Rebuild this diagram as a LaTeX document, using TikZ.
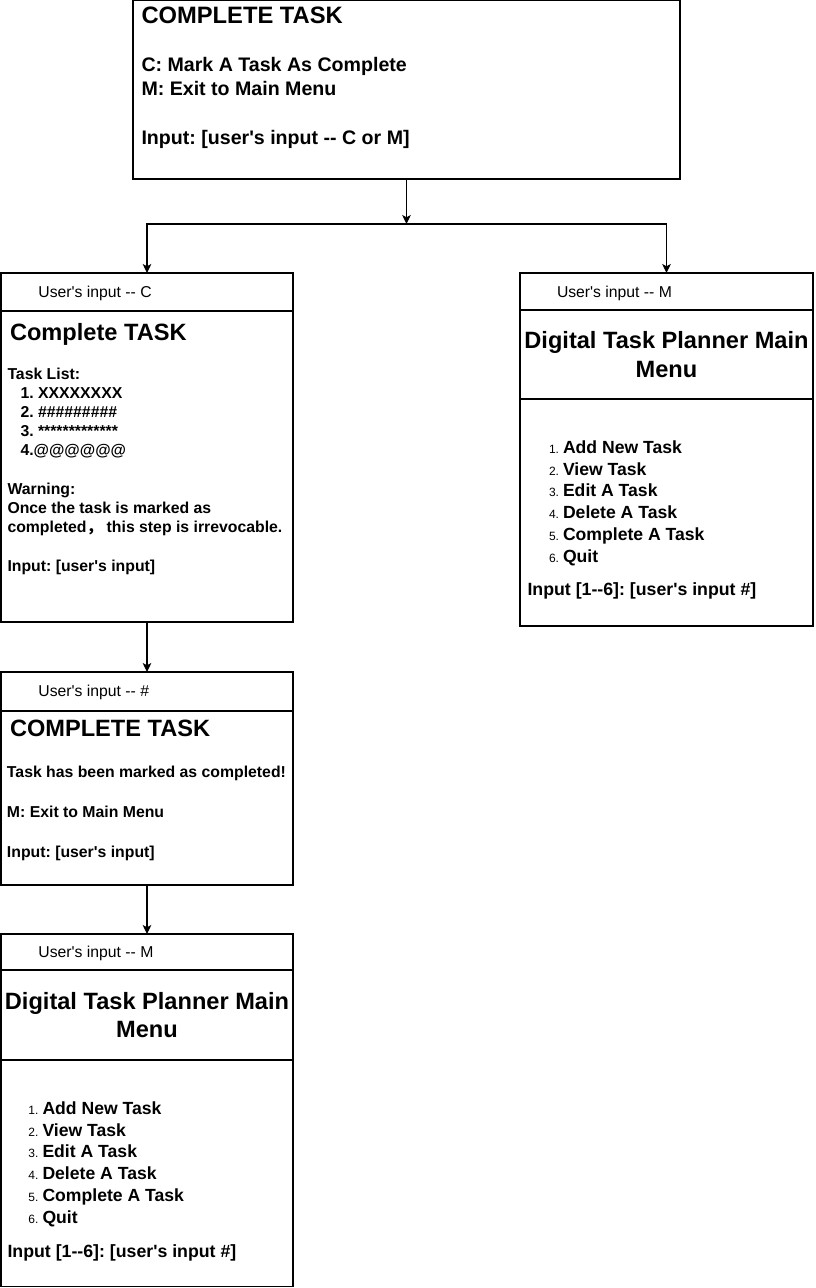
\documentclass[tikz,border=0pt]{standalone}
\usepackage{fontspec}
\setmainfont{Liberation Sans}[Ligatures=TeXOff]
\newfontfamily\cjk{Noto Sans CJK SC}
\usetikzlibrary{arrows.meta}
\frenchspacing
\begin{document}
\begin{tikzpicture}[x=0.75pt,y=-0.75pt,
  box/.style={draw,line width=0.8pt,inner sep=0pt,outer sep=0pt,anchor=north west},
  txt/.style={inner sep=0pt,outer sep=0pt,anchor=base west},
  hdr/.style={txt,font=\fontsize{11.8}{14}\selectfont},
  bod/.style={txt,font=\bfseries\fontsize{11.85}{14}\selectfont},
  ttl/.style={txt,font=\bfseries\fontsize{17.7}{21}\selectfont},
  ttlc/.style={inner sep=0pt,outer sep=0pt,anchor=base,font=\bfseries\fontsize{17.7}{21}\selectfont},
  topb/.style={txt,font=\bfseries\fontsize{14.7}{17}\selectfont},
  item/.style={txt,font=\bfseries\fontsize{13.2}{16}\selectfont},
  inp/.style={txt,font=\bfseries\fontsize{13.3}{16}\selectfont},
  num/.style={txt,font=\fontsize{9}{11}\selectfont},
  arr/.style={-{Stealth[length=6.8pt,width=6.5pt,inset=1.8pt]},line width=0.8pt}
]
\useasboundingbox (0,0) rectangle (816,1288);
\fill[white] (0,0) rectangle (816,1288);

% ---------- boxes ----------
\node[box,minimum width=547*0.75pt,minimum height=178.5*0.75pt] (top) at (133,0.5) {};
\node[box,minimum width=292*0.75pt,minimum height=38*0.75pt] (c1hdr) at (1,273) {};
\node[box,minimum width=292*0.75pt,minimum height=311*0.75pt] (c1body) at (1,311) {};
\node[box,minimum width=293*0.75pt,minimum height=37*0.75pt] (m1hdr) at (520,273) {};
\node[box,minimum width=293*0.75pt,minimum height=89*0.75pt] (m1ttl) at (520,310) {};
\node[box,minimum width=293*0.75pt,minimum height=227*0.75pt] (m1body) at (520,399) {};
\node[box,minimum width=292*0.75pt,minimum height=39*0.75pt] (h2hdr) at (1,672) {};
\node[box,minimum width=292*0.75pt,minimum height=174*0.75pt] (h2body) at (1,711) {};
\node[box,minimum width=292*0.75pt,minimum height=36*0.75pt] (m2hdr) at (1,934) {};
\node[box,minimum width=292*0.75pt,minimum height=90*0.75pt] (m2ttl) at (1,970) {};
\node[box,minimum width=292*0.75pt,minimum height=226.5*0.75pt] (m2body) at (1,1060) {};

% ---------- connectors ----------
\coordinate (j) at (406.5,224);
\draw[arr] (top.south) -- (j);
\draw[arr] (j) -| (c1hdr.north);
\draw[arr] (j) -| (m1hdr.north);
\draw[arr] (c1body.south) -- (h2hdr.north);
\draw[arr] (h2body.south) -- (m2hdr.north);

% ---------- top box text ----------
\node[txt,font=\bfseries\fontsize{17.8}{21}\selectfont] (t0) at (141.5,24) {COMPLETE TASK};
\node[topb] (t1) at (141.5,71.7) {C: Mark A Task As Complete};
\node[topb] (t2) at (141.5,95.7) {M: Exit to Main Menu};
\node[topb] (t3) at (141.5,144.5) {Input: [user's input -{}- C or M]};

% ---------- left box 1 ----------
\node[hdr] (c1h) at (38.5,297.6) {User's input -{}- C};
\node[ttl] (c1t) at (10,340.5) {Complete TASK};
\node[bod] (c1a) at (7.5,379.6) {Task List:};
\node[bod] (c1i1) at (20.5,398.6) {1. XXXXXXXX};
\node[bod] (c1i2) at (20.5,417.6) {2. \#\#\#\#\#\#\#\#\#};
\node[bod] (c1i3) at (20.5,436.6) {3. *************};
\node[bod] (c1i4) at (20.5,455.6) {4.@@@@@@};
\node[bod] (c1w1) at (7.5,494.6) {Warning:};
\node[bod] (c1w2) at (7.5,513.6) {Once the task is marked as};
\node[bod] (c1w3) at (7.5,532.6) {completed{\cjk ，} this step is irrevocable.};
\node[bod] (c1in) at (7.5,571.6) {Input: [user's input]};

% ---------- left box 2 ----------
\node[hdr] (h2h) at (38.5,696.6) {User's input -{}- \#};
\node[ttl] (h2t) at (10,736.5) {COMPLETE TASK};
\node[bod] (h2a) at (7,777.6) {Task has been marked as completed!};
\node[bod] (h2b) at (7,817.6) {M: Exit to Main Menu};
\node[bod] (h2c) at (7,857.8) {Input: [user's input]};

% ---------- right menu box ----------
\node[hdr] (m1h) at (557,297.6) {User's input -{}- M};
\node[ttlc] (m1t1) at (666.5,348.8) {Digital Task Planner Main};
\node[ttlc] (m1t2) at (666.5,377.2) {Menu};
\foreach \t [count=\i] in {Add New Task,View Task,Edit A Task,Delete A Task,Complete A Task,Quit}{
  \node[num] (m1n\i) at (549,{453.3+21.8*(\i-1)}) {\i.};
  \node[item] (m1i\i) at (563,{453.3+21.8*(\i-1)}) {\t};
}
\node[inp] (m1in) at (527.5,595.6) {Input [1-{}-6]: [user's input \#]};

% ---------- bottom menu box ----------
\node[hdr] (m2h) at (38.5,957.6) {User's input -{}- M};
\node[ttlc] (m2t1) at (147,1009.3) {Digital Task Planner Main};
\node[ttlc] (m2t2) at (147,1037.7) {Menu};
\foreach \t [count=\i] in {Add New Task,View Task,Edit A Task,Delete A Task,Complete A Task,Quit}{
  \node[num] (m2n\i) at (28.5,{1114.3+21.8*(\i-1)}) {\i.};
  \node[item] (m2i\i) at (42.5,{1114.3+21.8*(\i-1)}) {\t};
}
\node[inp] (m2in) at (7.5,1257) {Input [1-{}-6]: [user's input \#]};
\end{tikzpicture}
\end{document}
